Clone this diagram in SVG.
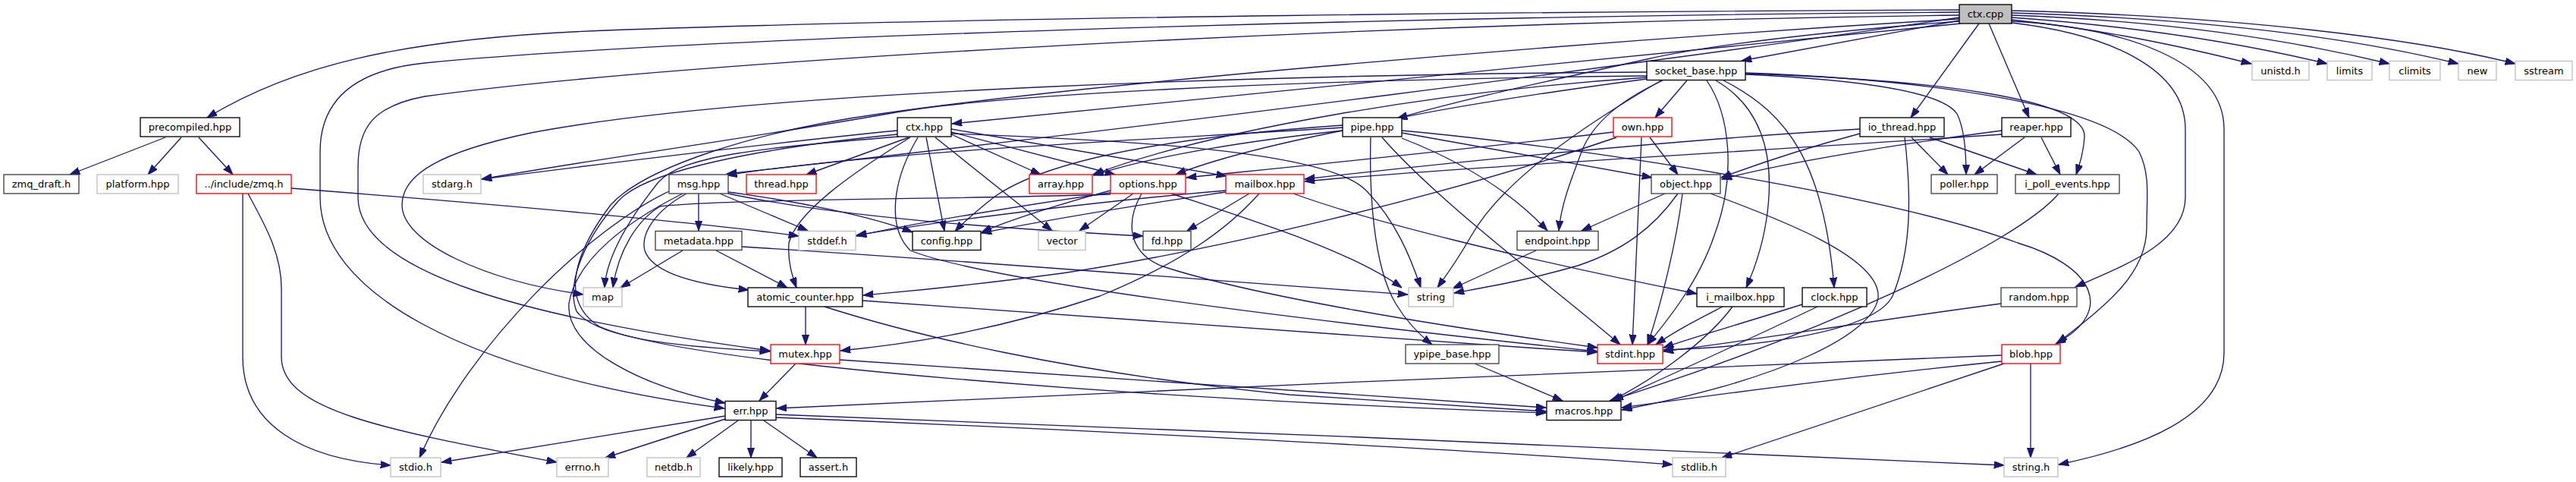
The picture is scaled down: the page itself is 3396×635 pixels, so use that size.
<svg xmlns="http://www.w3.org/2000/svg" width="3396" height="635" viewBox="0 0 3396 635">
<defs>
<style>
.n rect{fill:#fff;stroke-width:1.33}
.nb rect{stroke:#000}
.ng rect{stroke:#404040}
.nx rect{stroke:#bfbfbf}
.nr rect{stroke:#ff0000}
.root rect{fill:#bfbfbf;stroke:#000;stroke-width:1.33}
text{font-family:"DejaVu Sans","Liberation Sans",sans-serif;font-size:13px;text-anchor:middle;fill:#000}
#edges path{fill:none;stroke:#191970;stroke-width:1.33;marker-end:url(#ah)}
</style>
<marker id="ah" markerUnits="userSpaceOnUse" markerWidth="14" markerHeight="10" viewBox="0 0 14 10" refX="13.3" refY="4.65" orient="auto"><path d="M0,0 L13.3,4.65 L0,9.3 Z" fill="#191970" stroke="#191970" stroke-width="1"/></marker>
</defs>
<rect width="3396" height="635" fill="#fff"/>
<g id="edges">
<path d="M2583,13 C2100,15 1300,22 800,40 C520,50 380,90 273,155"/>
<path d="M2583,16 C1800,22 900,50 560,83 C470,92 422,130 422,200 L422,260 C422,380 600,490 955,538"/>
<path d="M2583,20 C1800,30 900,80 560,127 C490,140 472,170 472,220 L472,260 C472,360 700,420 1015,462"/>
<path d="M2583,23 C2200,80 1500,170 958,229"/>
<path d="M2585,31 L1255,163"/>
<path d="M2583,27 L2296,80"/>
<path d="M2583,28 C2400,42 2250,60 2171,78 C2050,105 1930,130 1842,156"/>
<path d="M2609,31 L2519,155"/>
<path d="M2622,31 L2675,155"/>
<path d="M2652,26 C2780,40 2880,62 2968,84"/>
<path d="M2652,23 C2820,35 2960,58 3068,84"/>
<path d="M2652,20 C2870,28 3030,55 3150,84"/>
<path d="M2652,17 C2920,25 3110,52 3241,84"/>
<path d="M2652,14 C2960,22 3190,52 3316,84"/>
<path d="M2652,28 C2800,36 2932,80 2932,170 L2932,465 C2932,550 2820,590 2714,612"/>
<path d="M2652,30 C2780,45 2881,90 2881,170 L2881,260 C2881,320 2800,350 2736,378"/>
<path d="M2583,25 C2000,60 1400,115 1160,150 C1000,172 850,220 805,270 C760,330 735,395 790,430 C900,480 1500,525 2038,544"/>
<path d="M1183,172 C1000,190 800,215 635,236"/>
<path d="M1198,181 L1063,230"/>
<path d="M1185,180 C1000,195 900,205 868,240 C840,275 800,330 797,379"/>
<path d="M1183,177 C1000,195 850,225 815,265 C775,310 745,370 760,410 C790,450 920,458 1015,463"/>
<path d="M1254,177 L1372,230"/>
<path d="M1254,174 L1470,230"/>
<path d="M1254,170 L1617,232"/>
<path d="M1221,181 L1245,304"/>
<path d="M1233,181 L1387,304"/>
<path d="M1254,176 C1500,185 1750,200 1800,250 C1840,290 1860,340 1873,379"/>
<path d="M1210,181 C1175,240 1170,300 1200,330 C1300,370 1700,420 2106,463"/>
<path d="M1200,181 C1120,230 1050,280 1040,320 C1038,345 1045,365 1050,379"/>
<path d="M2190,106 C2080,170 1980,240 1940,310 C1920,345 1905,365 1895,379"/>
<path d="M2171,95 C1700,98 1000,118 700,175 C580,200 530,230 530,270 C530,320 640,370 769,388"/>
<path d="M2171,100 C1700,105 1300,125 1170,150 C1000,180 750,215 635,236"/>
<path d="M2224,106 L2182,155"/>
<path d="M2171,102 C1900,120 1600,170 1441,230"/>
<path d="M2301,96 C2550,105 2780,140 2820,200 C2835,230 2830,260 2830,300 C2830,360 2780,400 2712,452"/>
<path d="M2250,106 C2280,150 2290,230 2260,310 C2240,370 2200,420 2172,454"/>
<path d="M2301,98 C2450,105 2560,120 2580,150 C2590,170 2592,200 2592,230"/>
<path d="M2301,97 C2550,105 2750,130 2748,180 C2747,200 2742,215 2737,230"/>
<path d="M2262,106 C2320,140 2340,200 2330,280 C2325,320 2315,350 2302,379"/>
<path d="M2272,106 C2360,150 2405,220 2418,379"/>
<path d="M2192,106 C2140,130 2100,160 2085,200 C2070,240 2058,270 2055,304"/>
<path d="M2171,104 C2050,120 1920,140 1842,156"/>
<path d="M1770,168 C1500,185 1150,200 958,231"/>
<path d="M1807,181 C1805,250 1810,350 1840,400 C1855,425 1870,440 1888,454"/>
<path d="M1770,165 C1550,180 1380,210 1310,260 C1285,280 1268,295 1259,305"/>
<path d="M1848,175 L2178,234"/>
<path d="M1822,181 C1900,270 2050,380 2136,454"/>
<path d="M1770,172 C1650,185 1520,205 1442,231"/>
<path d="M1848,172 C2100,195 2500,260 2660,320 C2760,350 2790,410 2710,453"/>
<path d="M1770,172 C1680,190 1600,210 1550,230"/>
<path d="M1848,182 C1920,210 1990,250 2040,304"/>
<path d="M2175,181 L2212,230"/>
<path d="M2127,174 C1950,195 1750,215 1564,234"/>
<path d="M2131,181 C1900,260 1600,330 1400,360 C1250,380 1180,385 1138,389"/>
<path d="M2164,181 C2160,280 2156,380 2152,454"/>
<path d="M2511,181 C2520,260 2520,330 2495,390 C2470,440 2300,458 2193,461"/>
<path d="M2452,176 C2380,195 2320,215 2269,234"/>
<path d="M2520,181 L2568,230"/>
<path d="M2544,181 L2685,230"/>
<path d="M2452,170 C2200,185 1900,215 1720,236"/>
<path d="M2639,172 C2500,190 2350,215 2270,236"/>
<path d="M2639,177 C2300,200 1900,222 1720,239"/>
<path d="M2669,181 L2603,230"/>
<path d="M2691,181 L2716,230"/>
<path d="M2195,255 L2085,304"/>
<path d="M2212,255 C2180,300 2140,330 2080,350 C2010,370 1960,378 1917,386"/>
<path d="M2218,255 C2210,320 2190,400 2172,454"/>
<path d="M2255,255 C2350,290 2480,340 2476,392 C2470,440 2350,500 2138,540"/>
<path d="M921,255 L921,304"/>
<path d="M949,255 L1065,304"/>
<path d="M960,253 C1050,265 1150,285 1203,306"/>
<path d="M960,255 C1100,285 1300,300 1507,311"/>
<path d="M882,252 C780,300 620,450 553,603"/>
<path d="M900,255 C830,290 760,340 750,400 C745,460 850,510 956,531"/>
<path d="M905,255 C860,280 845,310 850,330 C860,360 920,375 987,382"/>
<path d="M900,330 L818,379"/>
<path d="M944,330 L1038,379"/>
<path d="M978,325 C1300,345 1600,370 1856,388"/>
<path d="M1494,255 L1423,304"/>
<path d="M1464,251 C1400,268 1330,290 1294,306"/>
<path d="M1464,254 C1350,270 1200,295 1129,311"/>
<path d="M1505,255 C1485,290 1485,330 1530,350 C1650,390 1900,430 2106,458"/>
<path d="M1544,255 C1650,290 1780,330 1848,379"/>
<path d="M1464,256 C1300,262 950,262 870,272 C840,290 815,330 808,379"/>
<path d="M1616,251 C1450,265 1250,290 1129,310"/>
<path d="M1616,253 C1500,270 1380,290 1294,307"/>
<path d="M1647,255 L1565,304"/>
<path d="M1660,255 C1620,300 1560,345 1450,390 C1300,440 1180,455 1108,462"/>
<path d="M1705,255 C1800,290 2000,340 2237,387"/>
<path d="M1062,404 L1062,454"/>
<path d="M1137,396 C1500,420 1800,445 2106,464"/>
<path d="M1087,404 C1200,440 1400,490 1700,520 C1850,530 1950,537 2038,542"/>
<path d="M1049,479 L1001,528"/>
<path d="M1107,474 C1400,495 1700,515 2038,537"/>
<path d="M956,548 L582,609"/>
<path d="M956,552 L798,603"/>
<path d="M973,554 L905,603"/>
<path d="M990,554 L990,603"/>
<path d="M1007,554 L1077,603"/>
<path d="M1023,550 C1400,565 1900,590 2205,612"/>
<path d="M1023,546 C1500,565 2200,590 2642,613"/>
<path d="M2639,468 C2200,485 1500,515 1024,538"/>
<path d="M2639,476 C2450,495 2300,515 2138,537"/>
<path d="M2642,479 L2270,603"/>
<path d="M2677,479 L2677,603"/>
<path d="M2714,255 C2660,320 2400,440 2122,528"/>
<path d="M2271,404 C2240,420 2210,435 2183,454"/>
<path d="M2284,404 C2250,450 2180,500 2124,528"/>
<path d="M2376,401 C2300,425 2230,445 2193,458"/>
<path d="M2396,404 C2300,450 2200,495 2127,528"/>
<path d="M2638,400 C2450,425 2300,450 2193,463"/>
<path d="M1944,479 L2060,528"/>
<path d="M2025,330 L1915,380"/>
<path d="M218,181 L92,230"/>
<path d="M239,181 L195,230"/>
<path d="M262,181 L307,230"/>
<path d="M320,255 L320,470 C320,560 400,605 515,613"/>
<path d="M327,255 C345,290 371,330 371,380 L371,470 C371,540 500,565 734,609"/>
<path d="M384,248 C600,265 900,290 1053,311"/>
</g>
<g id="node_ctx_cpp" class="root"><rect x="2583" y="6" width="69" height="25"/><text x="2617.5" y="23">ctx.cpp</text></g>
<g id="node_socket_base" class="n nb"><rect x="2171" y="80.5" width="130" height="25"/><text x="2236" y="97.5">socket_base.hpp</text></g>
<g id="node_unistd" class="n nx"><rect x="2969" y="80.5" width="75" height="25"/><text x="3006.5" y="97.5">unistd.h</text></g>
<g id="node_limits" class="n nx"><rect x="3068" y="80.5" width="59" height="25"/><text x="3097.5" y="97.5">limits</text></g>
<g id="node_climits" class="n nx"><rect x="3150" y="80.5" width="67" height="25"/><text x="3183.5" y="97.5">climits</text></g>
<g id="node_new" class="n nx"><rect x="3241" y="80.5" width="50" height="25"/><text x="3266" y="97.5">new</text></g>
<g id="node_sstream" class="n nx"><rect x="3316" y="80.5" width="75" height="25"/><text x="3353.5" y="97.5">sstream</text></g>
<g id="node_precompiled" class="n nb"><rect x="185" y="155" width="131" height="25"/><text x="250.5" y="172">precompiled.hpp</text></g>
<g id="node_ctx_hpp" class="n nb"><rect x="1183" y="155" width="71" height="25"/><text x="1218.5" y="172">ctx.hpp</text></g>
<g id="node_pipe" class="n nb"><rect x="1770" y="155" width="78" height="25"/><text x="1809" y="172">pipe.hpp</text></g>
<g id="node_own" class="n nr"><rect x="2127" y="155" width="77" height="25"/><text x="2165.5" y="172">own.hpp</text></g>
<g id="node_io_thread" class="n nb"><rect x="2452" y="155" width="111" height="25"/><text x="2507.5" y="172">io_thread.hpp</text></g>
<g id="node_reaper" class="n nb"><rect x="2639" y="155" width="91" height="25"/><text x="2684.5" y="172">reaper.hpp</text></g>
<g id="node_zmq_draft" class="n ng"><rect x="5" y="230" width="99" height="25"/><text x="54.5" y="247">zmq_draft.h</text></g>
<g id="node_platform" class="n nx"><rect x="128" y="230" width="107" height="25"/><text x="181.5" y="247">platform.hpp</text></g>
<g id="node_zmq_h" class="n nr"><rect x="259" y="230" width="125" height="25"/><text x="321.5" y="247">../include/zmq.h</text></g>
<g id="node_stdarg" class="n nx"><rect x="558" y="230" width="76" height="25"/><text x="596" y="247">stdarg.h</text></g>
<g id="node_msg" class="n ng"><rect x="882" y="230" width="78" height="25"/><text x="921" y="247">msg.hpp</text></g>
<g id="node_thread" class="n nr"><rect x="984" y="230" width="92" height="25"/><text x="1030" y="247">thread.hpp</text></g>
<g id="node_array" class="n nr"><rect x="1357" y="230" width="83" height="25"/><text x="1398.5" y="247">array.hpp</text></g>
<g id="node_options" class="n nr"><rect x="1464" y="230" width="99" height="25"/><text x="1513.5" y="247">options.hpp</text></g>
<g id="node_mailbox" class="n nr"><rect x="1616" y="230" width="103" height="25"/><text x="1667.5" y="247">mailbox.hpp</text></g>
<g id="node_object" class="n ng"><rect x="2177" y="230" width="91" height="25"/><text x="2222.5" y="247">object.hpp</text></g>
<g id="node_poller" class="n ng"><rect x="2546" y="230" width="87" height="25"/><text x="2589.5" y="247">poller.hpp</text></g>
<g id="node_i_poll_events" class="n ng"><rect x="2657" y="230" width="137" height="25"/><text x="2725.5" y="247">i_poll_events.hpp</text></g>
<g id="node_metadata" class="n ng"><rect x="864" y="304.5" width="114" height="25"/><text x="921" y="321.5">metadata.hpp</text></g>
<g id="node_stddef" class="n nx"><rect x="1053" y="304.5" width="75" height="25"/><text x="1090.5" y="321.5">stddef.h</text></g>
<g id="node_config" class="n nb"><rect x="1203" y="304.5" width="90" height="25"/><text x="1248" y="321.5">config.hpp</text></g>
<g id="node_vector" class="n nx"><rect x="1369" y="304.5" width="62" height="25"/><text x="1400" y="321.5">vector</text></g>
<g id="node_fd" class="n ng"><rect x="1507" y="304.5" width="63" height="25"/><text x="1538.5" y="321.5">fd.hpp</text></g>
<g id="node_endpoint" class="n ng"><rect x="2000" y="304.5" width="107" height="25"/><text x="2053.5" y="321.5">endpoint.hpp</text></g>
<g id="node_map" class="n nx"><rect x="769" y="379" width="51" height="25"/><text x="794.5" y="396">map</text></g>
<g id="node_atomic_counter" class="n nb"><rect x="986" y="379" width="151" height="25"/><text x="1061.5" y="396">atomic_counter.hpp</text></g>
<g id="node_string" class="n nx"><rect x="1857" y="379" width="59" height="25"/><text x="1886.5" y="396">string</text></g>
<g id="node_i_mailbox" class="n nb"><rect x="2237" y="379" width="115" height="25"/><text x="2294.5" y="396">i_mailbox.hpp</text></g>
<g id="node_clock" class="n nb"><rect x="2376" y="379" width="85" height="25"/><text x="2418.5" y="396">clock.hpp</text></g>
<g id="node_random" class="n ng"><rect x="2638" y="379" width="100" height="25"/><text x="2688" y="396">random.hpp</text></g>
<g id="node_mutex" class="n nr"><rect x="1016" y="454" width="91" height="25"/><text x="1061.5" y="471">mutex.hpp</text></g>
<g id="node_ypipe_base" class="n ng"><rect x="1853" y="454" width="123" height="25"/><text x="1914.5" y="471">ypipe_base.hpp</text></g>
<g id="node_stdint" class="n nr"><rect x="2106" y="454" width="86" height="25"/><text x="2149" y="471">stdint.hpp</text></g>
<g id="node_blob" class="n nr"><rect x="2639" y="454" width="77" height="25"/><text x="2677.5" y="471">blob.hpp</text></g>
<g id="node_err" class="n nb"><rect x="956" y="528.5" width="67" height="25"/><text x="989.5" y="545.5">err.hpp</text></g>
<g id="node_macros" class="n nb"><rect x="2039" y="528.5" width="98" height="25"/><text x="2088" y="545.5">macros.hpp</text></g>
<g id="node_stdio" class="n nx"><rect x="515" y="603" width="66" height="25"/><text x="548" y="620">stdio.h</text></g>
<g id="node_errno" class="n nx"><rect x="734" y="603" width="68" height="25"/><text x="768" y="620">errno.h</text></g>
<g id="node_netdb" class="n nx"><rect x="853" y="603" width="70" height="25"/><text x="888" y="620">netdb.h</text></g>
<g id="node_likely" class="n nb"><rect x="948" y="603" width="83" height="25"/><text x="989.5" y="620">likely.hpp</text></g>
<g id="node_assert" class="n nb"><rect x="1055" y="603" width="74" height="25"/><text x="1092" y="620">assert.h</text></g>
<g id="node_stdlib" class="n nx"><rect x="2205" y="603" width="70" height="25"/><text x="2240" y="620">stdlib.h</text></g>
<g id="node_string_h" class="n nx"><rect x="2642" y="603" width="71" height="25"/><text x="2677.5" y="620">string.h</text></g>
</svg>
